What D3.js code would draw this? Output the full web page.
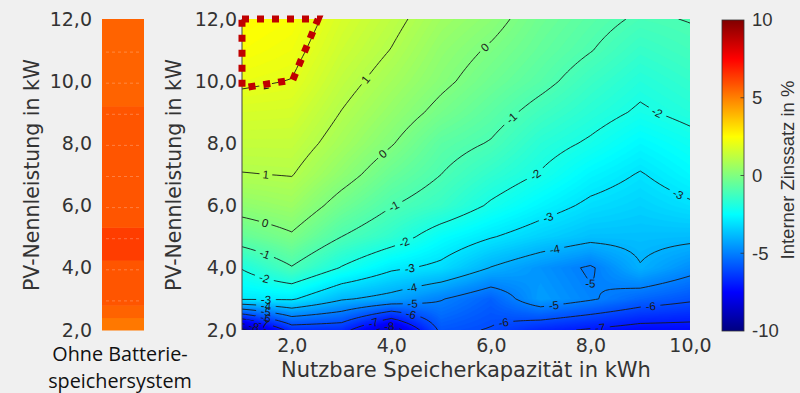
<!DOCTYPE html>
<html><head><meta charset="utf-8">
<script src="https://cdn.jsdelivr.net/npm/d3@7"></script>
<style>html,body{margin:0;padding:0;background:#f0f0f0;}svg{display:block;}</style>
</head><body>
<svg id="chart" width="800" height="393"></svg>
<script>
// ---------- data ----------
const storageKWh = [1, 2, 3, 4, 5, 6, 7, 8, 9, 10];
const pvKW = [2, 3, 4, 5, 6, 7, 8, 9, 10, 11, 12];
// internal rate of return (%) per PV size row, one value per storage capacity
const irrPV02 = [-9.3, -6.6, -6.65, -8.6, -5.8, -6.05, -6.75, -7.1, -7.4, -7.4];
const irrPV03 = [-2.9, -2.9, -3.9, -4.3, -4.95, -5.6, -4.4, -4.9, -5.5, -5.85];
const irrPV04 = [-1.95, -1.05, -2.05, -2.85, -3.19, -4.03, -4.6, -5.1, -4.05, -4.7];
const irrPV05 = [-0.55, -0.1, -1.0, -1.58, -2.43, -2.95, -3.4, -3.75, -3.75, -3.8];
const irrPV06 = [0.32, 0.55, -0.3, -0.97, -1.4, -2.1, -2.66, -3.15, -3.4, -3.1];
const irrPV07 = [0.97, 1.03, 0.3, -0.45, -1.0, -1.55, -2.05, -2.65, -3.05, -2.6];
const irrPV08 = [1.35, 1.35, 0.7, 0.05, -0.7, -1.05, -1.7, -2.1, -2.6, -2.25];
const irrPV09 = [1.7, 1.65, 0.98, 0.4, -0.2, -0.7, -1.25, -1.7, -2.1, -1.8];
const irrPV10 = [2.1, 1.98, 1.25, 0.7, 0.15, -0.35, -0.8, -1.35, -1.8, -1.5];
const irrPV11 = [2.4, 2.2, 1.5, 0.98, 0.35, -0.08, -0.55, -0.97, -1.45, -1.2];
const irrPV12 = [2.6, 2.4, 1.7, 1.2, 0.6, 0.22, -0.35, -0.75, -1.1, -0.97];
const irrGrid = [irrPV02, irrPV03, irrPV04, irrPV05, irrPV06, irrPV07, irrPV08, irrPV09, irrPV10, irrPV11, irrPV12];

// reference without battery storage: PV bands (kW edges) and IRR (%)
const barEdgesKW = [2, 2.4, 2.8, 4.25, 5.3, 9.2, 12];
const barIRR = [5.15, 5.55, 5.83, 6.3, 5.83, 5.55];

// highlighted region (dotted outline)
const markerKWh = [1, 2.53, 2.02, 1];
const markerKW = [12, 12, 10.04, 9.78];

const xTicks = [2, 4, 6, 8, 10];
const yTicks = [2, 4, 6, 8, 10, 12];
const cbTicks = [-10, -5, 0, 5, 10];
const contourLevels = [-9, -8, -7, -6, -5, -4, -3, -2, -1, 0, 1, 2];
const captionLines = ["Ohne Batterie-", "speichersystem"];

// ---------- setup ----------
const W = 800, H = 393;
const svg = d3.select("#chart");
svg.append("rect").attr("width", W).attr("height", H).attr("fill", "#f0f0f0");

const P = {x0: 242, x1: 690, y0: 19, y1: 330};
const xScale = d3.scaleLinear().domain([storageKWh[0], storageKWh[storageKWh.length - 1]]).range([P.x0, P.x1]);
const yScale = d3.scaleLinear().domain([pvKW[0], pvKW[pvKW.length - 1]]).range([P.y1, P.y0]);

function jet(t) {
  t = Math.max(0, Math.min(1, t));
  const c = v => Math.round(255 * Math.max(0, Math.min(1, v)));
  return `rgb(${c(1.5 - Math.abs(4 * t - 3))},${c(1.5 - Math.abs(4 * t - 2))},${c(1.5 - Math.abs(4 * t - 1))})`;
}
const color = d3.scaleSequential(jet).domain([-10, 10]);
const fmt = d => d3.format(".1f")(d).replace(".", ",");

const defs = svg.append("defs");
defs.append("clipPath").attr("id", "plotClip").append("rect")
  .attr("x", P.x0).attr("y", P.y0).attr("width", P.x1 - P.x0).attr("height", P.y1 - P.y0);

// ---------- bilinear refinement for rendering ----------
const F = 10;
const nxC = storageKWh.length, nyC = pvKW.length;
const nx = (nxC - 1) * F + 1, ny = (nyC - 1) * F + 1;
const fine = new Array(nx * ny);
for (let j = 0; j < ny; j++) {
  const v = j / F, j0 = Math.min(Math.floor(v), nyC - 2), tv = v - j0;
  for (let i = 0; i < nx; i++) {
    const u = i / F, i0 = Math.min(Math.floor(u), nxC - 2), tu = u - i0;
    const z00 = irrGrid[j0][i0], z10 = irrGrid[j0][i0 + 1], z01 = irrGrid[j0 + 1][i0], z11 = irrGrid[j0 + 1][i0 + 1];
    fine[j * nx + i] = (1 - tu) * (1 - tv) * z00 + tu * (1 - tv) * z10 + (1 - tu) * tv * z01 + tu * tv * z11;
  }
}
const ix2d = d3.scaleLinear().domain([0.5, nx - 0.5]).range([storageKWh[0], storageKWh[nxC - 1]]);
const iy2d = d3.scaleLinear().domain([0.5, ny - 0.5]).range([pvKW[0], pvKW[nyC - 1]]);
const toPx = p => [xScale(ix2d(p[0])), yScale(iy2d(p[1]))];
const proj = d3.geoTransform({point(x, y) { const q = toPx([x, y]); this.stream.point(q[0], q[1]); }});
const gpath = d3.geoPath(proj);

// ---------- filled field ----------
const fillLevels = d3.range(-100, 101).map(k => k / 10);
const fills = d3.contours().size([nx, ny]).thresholds(fillLevels)(fine);
svg.append("g").attr("clip-path", "url(#plotClip)")
  .selectAll("path").data(fills.filter(d => d.coordinates.length)).join("path")
  .attr("d", gpath)
  .attr("fill", d => color(d.value + 0.05))
  .attr("stroke", d => color(d.value + 0.05))
  .attr("stroke-width", 0.4);

// ---------- contour lines ----------
const lineContours = d3.contours().size([nx, ny]).thresholds(contourLevels)(fine);
const isB = p => p[0] <= 0 || p[0] >= nx || p[1] <= 0 || p[1] >= ny;
const runs = [];
lineContours.forEach(c => {
  c.coordinates.forEach(poly => poly.forEach(ring => {
    const pts = ring.slice(0, -1);
    const n = pts.length;
    const b = pts.map(isB);
    if (!b.some(Boolean)) {
      runs.push({level: c.value, closed: true, pts: pts.map(toPx)});
      return;
    }
    const k = b.indexOf(true);
    let cur = [];
    for (let m = 1; m <= n; m++) {
      const idx = (k + m) % n;
      if (!b[idx]) cur.push(pts[idx]);
      else { if (cur.length > 1) runs.push({level: c.value, closed: false, pts: cur.map(toPx)}); cur = []; }
    }
    if (cur.length > 1) runs.push({level: c.value, closed: false, pts: cur.map(toPx)});
  }));
});
runs.forEach(r => { if (!r.closed && r.pts[0][0] > r.pts[r.pts.length - 1][0]) r.pts.reverse(); });

// label placement along lines
const labels = [];
const START = 24, SPACING = 148;
function pointAt(pts, cum, s) {
  s = Math.max(0, Math.min(cum[cum.length - 1], s));
  let i = d3.bisectLeft(cum, s); if (i < 1) i = 1; if (i > pts.length - 1) i = pts.length - 1;
  const t = (s - cum[i - 1]) / ((cum[i] - cum[i - 1]) || 1);
  return [pts[i - 1][0] + t * (pts[i][0] - pts[i - 1][0]), pts[i - 1][1] + t * (pts[i][1] - pts[i - 1][1])];
}
runs.forEach(r => {
  const pts = r.closed ? r.pts.concat([r.pts[0]]) : r.pts;
  const cum = [0];
  for (let i = 1; i < pts.length; i++) cum.push(cum[i - 1] + Math.hypot(pts[i][0] - pts[i - 1][0], pts[i][1] - pts[i - 1][1]));
  const L = cum[cum.length - 1];
  let pos = [];
  if (r.closed) {
    if (L < 15) return;
    let best = 0; pts.forEach((p, i) => { if (p[1] > pts[best][1]) best = i; });
    pos = [cum[best]];
  } else {
    if (L < 16) return;
    if (L < 2 * START) pos = [L / 2];
    else for (let s = START; s < L - 10; s += SPACING) pos.push(s);
  }
  pos.forEach(s => {
    const p = pointAt(pts, cum, s);
    const a = pointAt(pts, cum, s - 6), bq = pointAt(pts, cum, s + 6);
    let ang = Math.atan2(bq[1] - a[1], bq[0] - a[0]) * 180 / Math.PI;
    if (ang > 90) ang -= 180; if (ang < -90) ang += 180;
    labels.push({x: p[0], y: p[1], ang, text: String(r.level)});
  });
});

const mask = defs.append("mask").attr("id", "lblMask").attr("maskUnits", "userSpaceOnUse")
  .attr("x", 0).attr("y", 0).attr("width", W).attr("height", H);
mask.append("rect").attr("width", W).attr("height", H).attr("fill", "#fff");
mask.selectAll("rect.g").data(labels).join("rect").attr("class", "g")
  .attr("x", d => -(d.text.length * 3.4 + 3)).attr("y", -5)
  .attr("width", d => 2 * (d.text.length * 3.4 + 3)).attr("height", 10)
  .attr("transform", d => `translate(${d.x},${d.y}) rotate(${d.ang})`)
  .attr("fill", "#000");

const lineGen = d3.line();
const lineG = svg.append("g").attr("clip-path", "url(#plotClip)");
lineG.append("g").attr("mask", "url(#lblMask)")
  .selectAll("path").data(runs).join("path")
  .attr("d", r => lineGen(r.pts) + (r.closed ? "Z" : ""))
  .attr("fill", "none").attr("stroke", "#1a1a1a").attr("stroke-width", 0.9);
lineG.selectAll("text").data(labels).join("text")
  .attr("transform", d => `translate(${d.x},${d.y}) rotate(${d.ang})`)
  .attr("text-anchor", "middle").attr("dy", "0.36em")
  .attr("font-family", "Liberation Sans, Arial, sans-serif").attr("font-size", 11.5)
  .attr("fill", "#1a1a1a").text(d => d.text);

// axis line of main plot
svg.append("line").attr("x1", P.x0).attr("x2", P.x0).attr("y1", P.y0).attr("y2", P.y1)
  .attr("stroke", "#444").attr("stroke-width", 1);

// ---------- main axes ----------
const tickFont = "DejaVu Sans, Verdana, sans-serif";
const gx = svg.append("g").attr("transform", `translate(0,${P.y1})`)
  .call(d3.axisBottom(xScale).tickValues(xTicks).tickFormat(fmt).tickSize(0).tickPadding(9));
const gy = svg.append("g").attr("transform", `translate(${P.x0},0)`)
  .call(d3.axisLeft(yScale).tickValues(yTicks).tickFormat(fmt).tickSize(0).tickPadding(5));
[gx, gy].forEach(g => { g.select(".domain").remove(); g.attr("font-family", tickFont).attr("font-size", 19).attr("color", "#333"); });

svg.append("text").attr("x", (P.x0 + P.x1) / 2).attr("y", 377).attr("text-anchor", "middle")
  .attr("font-family", tickFont).attr("font-size", 21).attr("fill", "#333")
  .text("Nutzbare Speicherkapazität in kWh");
svg.append("text").attr("transform", "translate(181,175) rotate(-90)").attr("text-anchor", "middle")
  .attr("font-family", tickFont).attr("font-size", 20.5).attr("fill", "#333")
  .text("PV-Nennleistung in kW");

// ---------- left panel: without battery ----------
const bar = {x0: 102, x1: 144};
const bands = barIRR.map((v, i) => ({lo: barEdgesKW[i], hi: barEdgesKW[i + 1], v}));
svg.append("g").selectAll("rect").data(bands).join("rect")
  .attr("x", bar.x0).attr("width", bar.x1 - bar.x0)
  .attr("y", d => yScale(d.hi)).attr("height", d => yScale(d.lo) - yScale(d.hi) + 0.5)
  .attr("fill", d => color(d.v));
svg.append("g").selectAll("line").data(d3.range(3, 12)).join("line")
  .attr("x1", bar.x0 + 4).attr("x2", bar.x1 - 2).attr("y1", d => yScale(d) + 2).attr("y2", d => yScale(d) + 2)
  .attr("stroke", "#fff").attr("stroke-opacity", 0.25).attr("stroke-dasharray", "3,3").attr("stroke-width", 1);
const gy2 = svg.append("g").attr("transform", `translate(97,0)`)
  .call(d3.axisLeft(yScale).tickValues(yTicks).tickFormat(fmt).tickSize(0).tickPadding(5));
gy2.select(".domain").remove();
gy2.attr("font-family", tickFont).attr("font-size", 19).attr("color", "#333");
svg.append("text").attr("transform", "translate(39,175) rotate(-90)").attr("text-anchor", "middle")
  .attr("font-family", tickFont).attr("font-size", 20.5).attr("fill", "#333")
  .text("PV-Nennleistung in kW");
svg.append("g").selectAll("text").data(captionLines).join("text")
  .attr("x", 120).attr("y", (d, i) => 361 + i * 26.5)
  .attr("text-anchor", "middle")
  .attr("font-family", "Open Sans, Noto Sans, sans-serif").attr("font-size", 19.8).attr("fill", "#111")
  .text(d => d);

// ---------- highlighted region ----------
svg.append("path")
  .attr("d", d3.line().x(d => xScale(d[0])).y(d => yScale(d[1]))(markerKWh.map((x, i) => [x, markerKW[i]])) + "Z")
  .attr("fill", "none").attr("stroke", "#c00000").attr("stroke-width", 7)
  .attr("stroke-dasharray", "7,8").attr("stroke-linejoin", "miter");

// ---------- colorbar ----------
const CB = {x0: 722, x1: 744, y0: 20, y1: 331};
const cbScale = d3.scaleLinear().domain([-10, 10]).range([CB.y1, CB.y0]);
const grad = defs.append("linearGradient").attr("id", "jetGrad")
  .attr("x1", 0).attr("y1", 1).attr("x2", 0).attr("y2", 0);
grad.selectAll("stop").data(d3.range(0, 41)).join("stop")
  .attr("offset", d => d / 40).attr("stop-color", d => color(-10 + d / 2));
svg.append("rect").attr("x", CB.x0).attr("y", CB.y0).attr("width", CB.x1 - CB.x0).attr("height", CB.y1 - CB.y0)
  .attr("fill", "url(#jetGrad)").attr("stroke", "#333").attr("stroke-width", 0.8);
svg.append("g").selectAll("line").data(cbTicks.slice(1, -1)).join("line")
  .attr("x1", CB.x1 - 3.5).attr("x2", CB.x1).attr("y1", d => cbScale(d)).attr("y2", d => cbScale(d))
  .attr("stroke", "#333").attr("stroke-width", 0.8);
svg.append("g").selectAll("text").data(cbTicks).join("text")
  .attr("x", 752).attr("y", d => cbScale(d)).attr("dy", "0.35em")
  .attr("font-family", "Liberation Sans, Arial, sans-serif").attr("font-size", 18.5).attr("fill", "#333")
  .text(d => String(d));
svg.append("text").attr("transform", "translate(794,170) rotate(-90)").attr("text-anchor", "middle")
  .attr("font-family", "Liberation Sans, Arial, sans-serif").attr("font-size", 18.5).attr("fill", "#333")
  .text("Interner Zinssatz in %");
</script>
</body></html>
